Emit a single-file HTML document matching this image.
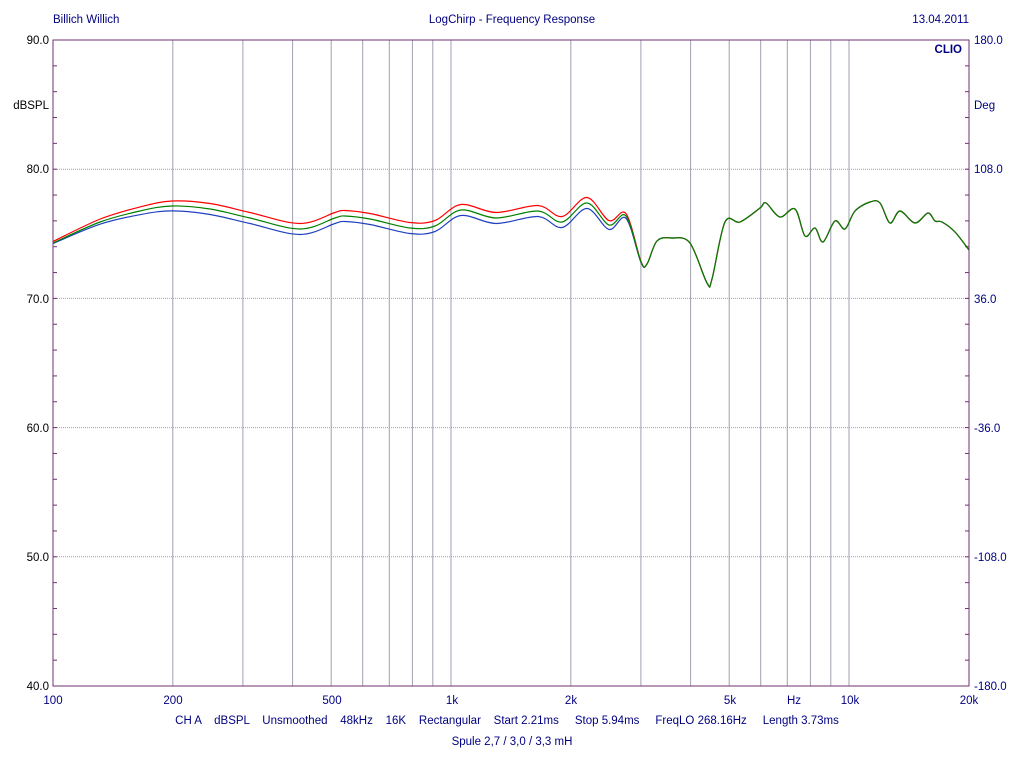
<!DOCTYPE html>
<html><head><meta charset="utf-8"><style>
body{margin:0;background:#fff;width:1024px;height:768px;overflow:hidden;font-family:"Liberation Sans",Arial,sans-serif}
svg text{font-family:"Liberation Sans",Arial,sans-serif;font-size:11.5px;white-space:pre}
</style></head><body>
<svg id="s" width="1024" height="768" viewBox="0 0 1024 768" xmlns="http://www.w3.org/2000/svg" xml:space="preserve">
<g fill="#000080">
<text x="53" y="23">Billich Willich</text>
<text x="512" y="23" text-anchor="middle">LogChirp - Frequency Response</text>
<text x="969" y="23" text-anchor="end">13.04.2011</text>
</g>
<g id="grid"></g>
<g id="curves" fill="none" stroke-width="1.2"></g>
<rect x="53" y="40" width="916" height="646" fill="none" stroke="#703070" stroke-width="1"/>
<text x="962" y="53" text-anchor="end" fill="#000080" font-weight="bold">CLIO</text>
<g fill="#000" text-anchor="end">
<text x="49" y="44">90.0</text><text x="49" y="173">80.0</text><text x="49" y="303">70.0</text>
<text x="49" y="432">60.0</text><text x="49" y="561">50.0</text><text x="49" y="690">40.0</text>
<text x="49" y="109">dBSPL</text>
</g>
<g fill="#000080">
<text x="974" y="44">180.0</text><text x="974" y="173">108.0</text><text x="974" y="303">36.0</text>
<text x="974" y="432">-36.0</text><text x="974" y="561">-108.0</text><text x="974" y="690">-180.0</text>
<text x="974" y="109">Deg</text>
</g>
<g fill="#000080" text-anchor="middle">
<text x="53" y="704">100</text><text x="173" y="704">200</text><text x="332" y="704">500</text>
<text x="452" y="704">1k</text><text x="571" y="704">2k</text><text x="730" y="704">5k</text>
<text x="794" y="704">Hz</text><text x="850" y="704">10k</text><text x="969" y="704">20k</text>
<text x="507" y="724">CH A    dBSPL    Unsmoothed    48kHz    16K    Rectangular    Start 2.21ms     Stop 5.94ms     FreqLO 268.16Hz     Length 3.73ms</text>
<text x="512" y="745">Spule 2,7 / 3,0 / 3,3 mH</text>
</g>
</svg>
<script>
function X(f){return 53+398*Math.log10(f/100);}
var g=document.getElementById('grid'),h='';
[2,3,4,5,6,7,8,9,10,20,30,40,50,60,70,80,90,100,200].forEach(function(m){var x=X(m*100);if(x<968)h+='<line x1="'+x.toFixed(1)+'" y1="40" x2="'+x.toFixed(1)+'" y2="686" stroke="#a0a0b0" stroke-width="1"/>';});
for(var d=1;d<5;d++){var y=40+d*129.2;h+='<line x1="53" y1="'+y+'" x2="969" y2="'+y+'" stroke="#a0a0b0" stroke-dasharray="1,1"/>';}
for(var k=1;k<25;k++){var y=40+k*25.84;h+='<line x1="53" y1="'+y+'" x2="57" y2="'+y+'" stroke="#703070"/><line x1="965" y1="'+y+'" x2="969" y2="'+y+'" stroke="#703070"/>';}
g.innerHTML=h;
var P=[[53,243],[100,222],[140,211],[172,206],[210,209],[250,218],[300,229],[335,218],[345,216],[370,219],[410,228],[435,226],[461,210],[496,218],[538,211],[562,222],[587,203],[609,225],[626,216],[641,262],[647,264],[657,241],[672,238],[690,243],[707,283],[712,279],[725,222],[740,222],[760,208],[766,203],[780,217],[795,209],[805,236],[815,228],[823,242],[835,221],[845,229],[855,211],[870,202],[880,203],[890,223],[900,211],[915,223],[928,213],[935,221],[942,222],[955,232],[969,250]];
function off(x,a,b){if(x<=190)return a+(b-a)*(x-53)/137;if(x<=600)return b;if(x<=645)return b*(645-x)/45;return 0;}
function path(o1,o2){var pts=P.map(function(p){return [p[0],p[1]+off(p[0],o1,o2)];});var s='M'+pts[0][0]+','+pts[0][1];
for(var i=0;i<pts.length-1;i++){var p0=pts[i-1]||pts[i],p1=pts[i],p2=pts[i+1],p3=pts[i+2]||p2;
s+=' C'+(p1[0]+(p2[0]-p0[0])/6).toFixed(1)+','+(p1[1]+(p2[1]-p0[1])/6).toFixed(1)+' '+(p2[0]-(p3[0]-p1[0])/6).toFixed(1)+','+(p2[1]-(p3[1]-p1[1])/6).toFixed(1)+' '+p2[0]+','+p2[1];}return s;}
var c=document.getElementById('curves');
c.innerHTML='<path d="'+path(0.5,5.5)+'" stroke="#2040c0"/><path d="'+path(-1.5,-5.5)+'" stroke="#ff0000"/><path d="'+path(0,0)+'" stroke="#008000"/>';
</script>
</body></html>
